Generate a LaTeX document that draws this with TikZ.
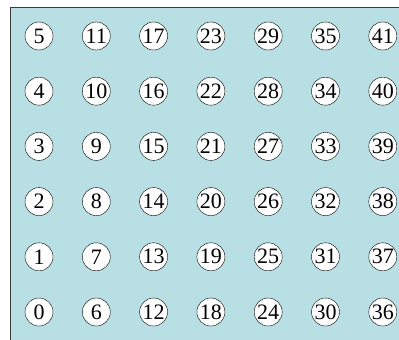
\documentclass[tikz,border=0pt]{standalone}
\usepackage{fontspec}
\setmainfont{Liberation Serif}
\definecolor{bgc}{RGB}{184,224,228}
\definecolor{edgec}{RGB}{60,60,60}
\begin{document}
\begin{tikzpicture}[x=1pt,y=-1pt,
  numnode/.style={circle,draw=black,fill=white,inner sep=0.5pt,minimum size=28pt,font=\fontsize{22}{22}\selectfont}]
\useasboundingbox (0,0) rectangle (399,340);
\draw[fill=bgc,draw=edgec,line width=1pt] (10,7) rectangle (410,350);
\foreach \c in {0,...,6}{
  \foreach \r in {0,...,5}{
    \pgfmathtruncatemacro{\n}{\c*6+\r}
    \node[numnode] (n\n) at ({39+57.3*\c},{312-55.2*\r}) {\n};
  }
}
\end{tikzpicture}
\end{document}
